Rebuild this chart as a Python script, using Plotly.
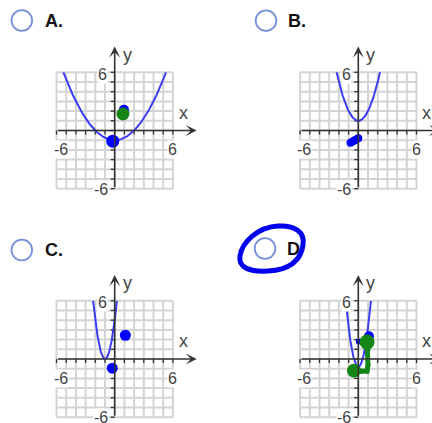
import numpy as np
import plotly.graph_objects as go

W, H = 432, 423
S = 9.7  # pixels per grid unit

# ---- answer options -------------------------------------------------------
OPTIONS = ["A.", "B.", "C.", "D"]
# pixel origin of each small coordinate plane
ORIGINS = [(114.7, 130.5), (358.3, 130.5), (114.7, 359.0), (358.3, 359.0)]
# pixel box reserved for each plane (left, right, top, bottom)
BOXES = [(12, 212, 34, 205), (256, 432, 34, 205), (12, 212, 262, 423), (256, 432, 262, 423)]
# radio button centres and label anchors (pixels)
RADIO_CENTERS = [(21.8, 20.5), (266.0, 20.7), (21.8, 250.0), (265.0, 248.5)]
LABEL_X = [43, 286, 43, 285]

# ---- parabola y = a (x - h)^2 + k per option --------------------------------
PARAB_A = [0.25, 1.0, 4.0, 4.0]
PARAB_H = [0.0, 0.0, -1.0, 0.0]
PARAB_K = [-1.0, 1.0, 0.0, -0.8]

GRID = list(range(-6, 7))
TICK_TEXT = ["6", "-6", "-6", "6"]

# ---- pen marks on each plane -------------------------------------------------
BLUE_DOTS_X = [[-0.2, 0.95], [], [1.1, -0.25], [1.1, 0.05]]
BLUE_DOTS_Y = [[-1.1, 2.15], [], [2.45, -0.95], [2.35, 1.8]]
BLUE_DOTS_SIZE = [[13, 10], [], [11, 11], [10, 6]]
BLUE_STROKE_X = [[], [-0.8, -0.4, 0.0], [], []]
BLUE_STROKE_Y = [[], [-1.25, -1.03, -0.8], [], []]
GREEN_DOTS_X = [[0.85], [], [], [-0.45, 0.9]]
GREEN_DOTS_Y = [[1.7], [], [], [-1.2, 1.75]]
GREEN_DOTS_SIZE = [[13], [], [], [14, 15]]
GREEN_STROKE_X = [[], [], [], [-0.45, 0.3, 0.9, 1.0, 1.0, 0.9]]
GREEN_STROKE_Y = [[], [], [], [-1.2, -1.3, -1.25, -0.6, 1.0, 1.75]]

GRID_COLOR = "#d4d4d4"
AXIS_COLOR = "#333333"
CURVE_COLOR = "#3c3cf2"
PEN_BLUE = "#0000ff"
PEN_GREEN = "#158515"
TEXT_COLOR = "#444444"
FONT = "Liberation Sans, Arial, sans-serif"


def px(x, y):
    return x / W, 1 - y / H


def pen_marker(color, size):
    return dict(color=color, size=size, opacity=1, line=dict(width=0))


fig = go.Figure()
layout_axes = {}
annotations = []
shapes = []

for i in range(4):
    n = "" if i == 0 else str(i + 1)
    xr, yr = "x" + n, "y" + n
    ox, oy = ORIGINS[i]
    L, R, T, B = BOXES[i]
    layout_axes["xaxis" + n] = dict(
        domain=[L / W, R / W], range=[(L - ox) / S, (R - ox) / S],
        visible=False, fixedrange=True, anchor=yr)
    layout_axes["yaxis" + n] = dict(
        domain=[(H - B) / H, (H - T) / H], range=[(oy - B) / S, (oy - T) / S],
        visible=False, fixedrange=True, anchor=xr)

    # grid
    gx, gy = [], []
    for g in GRID:
        gx += [g, g, None, -6, 6, None]
        gy += [-6, 6, None, g, g, None]
    fig.add_trace(go.Scatter(x=gx, y=gy, mode="lines", xaxis=xr, yaxis=yr,
                             line=dict(color=GRID_COLOR, width=2),
                             hoverinfo="skip", showlegend=False))

    # tick marks along both axes
    tx, ty = [], []
    for g in GRID:
        tx += [g, g, None]
        ty += [0, -0.42, None]
        tx += [-0.42, 0, None]
        ty += [g, g, None]
    fig.add_trace(go.Scatter(x=tx, y=ty, mode="lines", xaxis=xr, yaxis=yr,
                             line=dict(color=AXIS_COLOR, width=1.3),
                             hoverinfo="skip", showlegend=False))

    # axes with arrowheads
    for (x0, y0, x1, y1) in [(-6, 0, 8.45, 0), (0, -6, 0, 8.65)]:
        annotations.append(dict(
            x=x1, y=y1, ax=x0, ay=y0, xref=xr, yref=yr, axref=xr, ayref=yr,
            showarrow=True, arrowhead=3, arrowsize=1.15, arrowwidth=1.6,
            arrowcolor=AXIS_COLOR, standoff=0, startstandoff=0, text=""))

    # tick labels
    lab_pos = [(-0.7, 5.8, "right"), (-0.6, -6.05, "right"),
               (-5.55, -2.0, "center"), (5.95, -2.0, "center")]
    for (lx, ly, anc), t in zip(lab_pos, TICK_TEXT):
        annotations.append(dict(
            x=lx, y=ly, xref=xr, yref=yr, text=t, showarrow=False,
            xanchor=anc, yanchor="middle", bgcolor="white", borderpad=0,
            font=dict(family=FONT, size=16, color=TEXT_COLOR)))
    annotations.append(dict(x=7.07, y=1.83, xref=xr, yref=yr, text="x",
                            showarrow=False, font=dict(family=FONT, size=18, color=TEXT_COLOR)))
    annotations.append(dict(x=1.3, y=7.8, xref=xr, yref=yr, text="y",
                            showarrow=False, font=dict(family=FONT, size=18, color=TEXT_COLOR)))

    # parabola, kept inside the grid
    a, h, k = PARAB_A[i], PARAB_H[i], PARAB_K[i]
    half = np.sqrt((6 - k) / a)
    xs = np.linspace(max(-6, h - half), min(6, h + half), 200)
    fig.add_trace(go.Scatter(x=xs, y=a * (xs - h) ** 2 + k, mode="lines",
                             xaxis=xr, yaxis=yr,
                             line=dict(color=CURVE_COLOR, width=2),
                             hoverinfo="skip", showlegend=False))

    # pen marks
    if BLUE_STROKE_X[i]:
        fig.add_trace(go.Scatter(x=BLUE_STROKE_X[i], y=BLUE_STROKE_Y[i],
                                 mode="lines+markers", xaxis=xr, yaxis=yr,
                                 line=dict(color=PEN_BLUE, width=8),
                                 marker=pen_marker(PEN_BLUE, 8),
                                 hoverinfo="skip", showlegend=False))
    if BLUE_DOTS_X[i]:
        fig.add_trace(go.Scatter(x=BLUE_DOTS_X[i], y=BLUE_DOTS_Y[i], mode="markers",
                                 xaxis=xr, yaxis=yr,
                                 marker=pen_marker(PEN_BLUE, BLUE_DOTS_SIZE[i]),
                                 hoverinfo="skip", showlegend=False))
    if GREEN_STROKE_X[i]:
        fig.add_trace(go.Scatter(x=GREEN_STROKE_X[i], y=GREEN_STROKE_Y[i],
                                 mode="lines+markers", xaxis=xr, yaxis=yr,
                                 line=dict(color=PEN_GREEN, width=5),
                                 marker=pen_marker(PEN_GREEN, 5),
                                 hoverinfo="skip", showlegend=False))
    if GREEN_DOTS_X[i]:
        fig.add_trace(go.Scatter(x=GREEN_DOTS_X[i], y=GREEN_DOTS_Y[i], mode="markers",
                                 xaxis=xr, yaxis=yr,
                                 marker=pen_marker(PEN_GREEN, GREEN_DOTS_SIZE[i]),
                                 hoverinfo="skip", showlegend=False))

    # radio button and option letter
    cx, cy = RADIO_CENTERS[i]
    r = 10.3
    x0, y0 = px(cx - r, cy - r)
    x1, y1 = px(cx + r, cy + r)
    shapes.append(dict(type="circle", xref="paper", yref="paper",
                       x0=x0, x1=x1, y0=y1, y1=y0,
                       line=dict(color="#7890dc", width=1.8)))
    lx, ly = px(LABEL_X[i], cy)
    annotations.append(dict(x=lx, y=ly, xref="paper", yref="paper", text="<b>%s</b>" % OPTIONS[i],
                            showarrow=False, xanchor="left", yanchor="middle",
                            font=dict(family=FONT, size=18, color="#111111")))

# hand-drawn loop around the chosen option
loop = [(278, 226), (295, 225), (305, 232), (303, 245), (301, 260), (290, 270), (268, 271),
        (250, 272), (238, 268), (240, 256), (242, 242), (258, 227), (278, 226)]
pts = [px(*p) for p in loop]
path = "M %f,%f" % pts[0]
for j in range(1, len(pts), 3):
    path += " C %f,%f %f,%f %f,%f" % (pts[j] + pts[j + 1] + pts[j + 2])
path += " Z"
shapes.append(dict(type="path", xref="paper", yref="paper", path=path,
                   line=dict(color="#0000ee", width=5)))

fig.update_layout(
    width=W, height=H, autosize=False,
    margin=dict(l=0, r=0, t=0, b=0),
    paper_bgcolor="white", plot_bgcolor="rgba(0,0,0,0)",
    showlegend=False, annotations=annotations, shapes=shapes,
    **layout_axes)

fig.write_html("out.html", config={"displayModeBar": False})
